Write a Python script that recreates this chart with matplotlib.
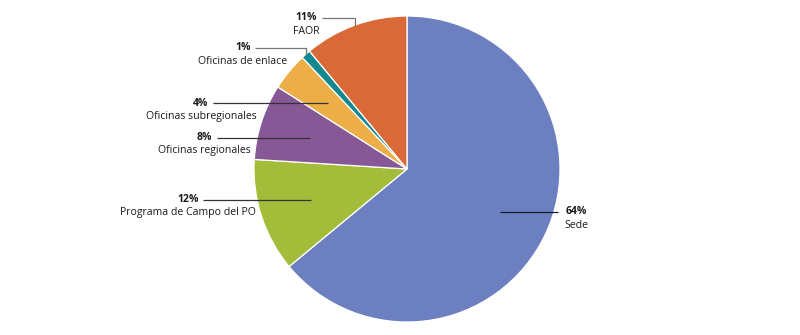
import numpy as np
import matplotlib
matplotlib.use("Agg")
import matplotlib.pyplot as plt

# Distribution by location (percent)
categories = ["Sede", "Programa de Campo del PO", "Oficinas regionales",
              "Oficinas subregionales", "Oficinas de enlace", "FAOR"]
shares = [64, 12, 8, 4, 1, 11]
pct_labels = ["64%", "12%", "8%", "4%", "1%", "11%"]
colors = ["#6b7fc1", "#a3bc3a", "#875896", "#edae48", "#13898f", "#d96937"]

plt.rcParams["font.family"] = ["Open Sans", "DejaVu Sans"]

W, H = 800, 335
fig = plt.figure(figsize=(W / 100, H / 100), dpi=100)
ax = fig.add_axes([0, 0, 1, 1])
ax.set_xlim(0, W)
ax.set_ylim(0, H)
ax.set_aspect("equal")
ax.axis("off")

cx, cy, r = 407, H - 169, 153
wedges, _ = ax.pie(shares, colors=colors, startangle=90, counterclock=False,
                   center=(cx, cy), radius=r,
                   wedgeprops=dict(edgecolor="white", linewidth=0.9))
ax.set_xlim(0, W)
ax.set_ylim(0, H)

# label layout: (text center x, text y in px from top, line start x, anchor radius fraction, line colour)
layout = {
    "Sede": (576, 212, 558, 0.67, "#1a1a2e", "left"),
    "Programa de Campo del PO": (188, 200, 203, 0.66, "#333333", "right"),
    "Oficinas regionales": (204, 138, 217, 0.67, "#333333", "right"),
    "Oficinas subregionales": (201, 103, 213, 0.67, "#333333", "right"),
    "Oficinas de enlace": (243, 48, 255, 1.0, "#777777", "right"),
    "FAOR": (306, 18, 322, 1.0, "#777777", "right"),
}

for w, cat, pct in zip(wedges, categories, pct_labels):
    tx, ty, lx, frac, lc, side = layout[cat]
    mid = np.deg2rad((w.theta1 + w.theta2) / 2)
    axp = cx + frac * r * np.cos(mid)
    ayp = cy + frac * r * np.sin(mid)
    ty_d = H - ty
    if frac < 1:
        ax.plot([lx, axp], [ty_d, ty_d], color=lc, lw=0.9, solid_capstyle="butt")
    else:
        ax.plot([lx, axp, axp], [ty_d, ty_d, ayp - 1], color=lc, lw=0.9,
                solid_capstyle="butt")
    ax.text(tx, ty_d, pct, ha="center", va="center", fontsize=7.6,
            fontweight="bold", color="#1a1a1a")
    ax.text(tx, ty_d - 13, cat, ha="center", va="center", fontsize=7.6,
            color="#1a1a1a")

fig.savefig("out.png", dpi=100, facecolor="white")
